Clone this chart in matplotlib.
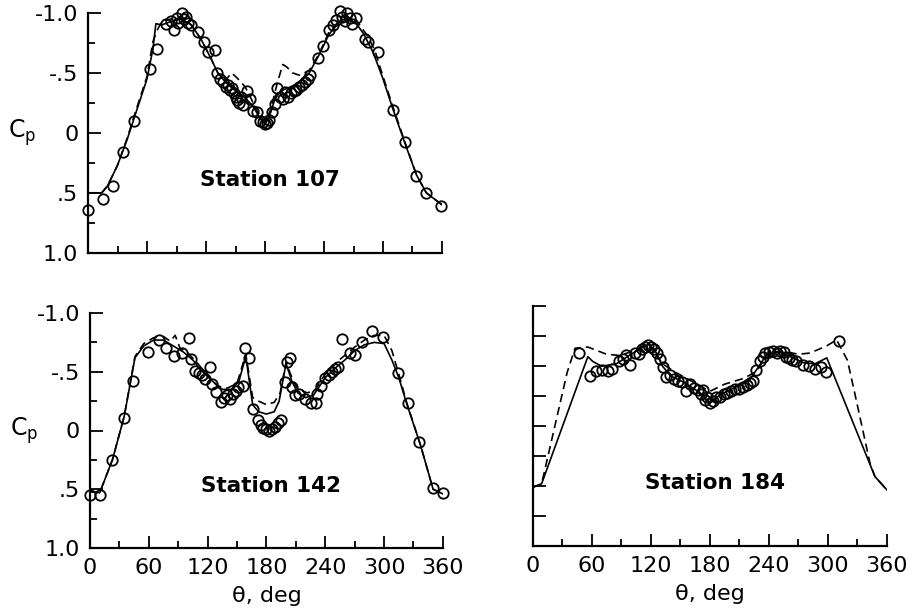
import matplotlib.pyplot as plt
import numpy as np

plt.rcParams['font.family'] = ['DejaVu Sans']
plt.rcParams['mathtext.default'] = 'regular'

# Station 107 - test data (circles), theta deg / Cp
th107 = [0, 15, 25, 36, 47, 63, 70, 79, 84, 87, 90, 92, 96, 98, 100, 102, 105, 112, 118,
         122, 129, 131, 134, 137, 140, 142, 144, 146, 148, 150, 152, 154, 156, 158, 162,
         165, 168, 172, 175, 178, 180, 182, 184, 187, 190, 192, 195, 198, 200, 203, 206,
         209, 212, 215, 218, 221, 224, 226, 234, 239, 245, 249, 252, 256, 258, 261, 263,
         266, 268, 273, 282, 285, 295, 310, 322, 334, 344, 359]
cp107 = [0.64, 0.55, 0.44, 0.16, -0.10, -0.53, -0.70, -0.91, -0.93, -0.86, -0.96, -0.92,
         -1.00, -0.95, -0.97, -0.92, -0.90, -0.84, -0.76, -0.67, -0.69, -0.50, -0.45, -0.42,
         -0.38, -0.40, -0.36, -0.37, -0.33, -0.30, -0.27, -0.25, -0.30, -0.23, -0.35, -0.28,
         -0.18, -0.17, -0.10, -0.09, -0.07, -0.08, -0.11, -0.17, -0.24, -0.37, -0.30, -0.28,
         -0.34, -0.30, -0.33, -0.35, -0.36, -0.38, -0.40, -0.42, -0.45, -0.48, -0.62, -0.72,
         -0.86, -0.90, -0.94, -1.02, -0.97, -0.93, -1.00, -0.96, -0.91, -0.96, -0.78, -0.76,
         -0.67, -0.19, 0.08, 0.36, 0.50, 0.61]
# Station 107 - solid and dashed predictions
th107_s = [0, 14, 20, 30, 40, 50, 60, 66, 69, 75, 85, 95, 105, 115, 125, 132, 140, 150, 160,
           168, 175, 180, 185, 190, 196, 205, 215, 225, 235, 245, 255, 265, 272, 280, 290,
           300, 310, 322, 334, 344, 360]
cp107_s = [0.50, 0.50, 0.44, 0.27, 0.05, -0.20, -0.45, -0.70, -0.91, -0.90, -0.93, -0.95,
           -0.90, -0.78, -0.62, -0.50, -0.42, -0.35, -0.29, -0.22, -0.12, -0.07, -0.15, -0.28,
           -0.35, -0.38, -0.42, -0.50, -0.65, -0.82, -0.92, -0.94, -0.92, -0.83, -0.67, -0.45,
           -0.20, 0.08, 0.35, 0.50, 0.60]
th107_d = [0, 14, 20, 30, 40, 50, 60, 66, 70, 75, 85, 95, 105, 115, 125, 132, 140, 146, 150,
           155, 160, 165, 172, 180, 186, 192, 198, 202, 208, 215, 225, 235, 245, 255, 265,
           272, 278, 285, 292, 300, 310, 322, 334, 344, 360]
cp107_d = [0.50, 0.50, 0.44, 0.27, 0.04, -0.22, -0.47, -0.76, -0.85, -0.93, -0.95, -0.97,
           -0.90, -0.78, -0.62, -0.50, -0.44, -0.50, -0.47, -0.43, -0.38, -0.30, -0.18, -0.08,
           -0.20, -0.40, -0.57, -0.55, -0.50, -0.48, -0.52, -0.66, -0.84, -0.93, -0.96, -0.95,
           -0.88, -0.80, -0.68, -0.47, -0.22, 0.07, 0.35, 0.50, 0.60]

# Station 142
th142 = [0, 10, 23, 35, 44, 59, 70, 78, 86, 94, 101, 103, 107, 111, 114, 117, 122, 125, 129,
         134, 137, 140, 143, 146, 149, 151, 156, 158, 162, 166, 171, 174, 177, 180, 183, 186,
         189, 192, 195, 199, 201, 204, 206, 209, 213, 219, 226, 231, 232, 236, 240, 244, 247,
         250, 253, 257, 265, 270, 278, 288, 299, 314, 324, 336, 350, 360]
cp142 = [0.55, 0.55, 0.25, -0.11, -0.42, -0.67, -0.77, -0.70, -0.63, -0.66, -0.79, -0.61,
         -0.51, -0.49, -0.47, -0.44, -0.54, -0.40, -0.33, -0.24, -0.28, -0.30, -0.27, -0.31,
         -0.34, -0.37, -0.38, -0.70, -0.62, -0.18, -0.09, -0.05, -0.02, -0.01, 0.00, -0.01,
         -0.03, -0.06, -0.09, -0.41, -0.58, -0.62, -0.37, -0.30, -0.31, -0.27, -0.23, -0.23,
         -0.31, -0.38, -0.45, -0.47, -0.50, -0.52, -0.54, -0.78, -0.66, -0.64, -0.75, -0.85,
         -0.80, -0.49, -0.23, 0.10, 0.49, 0.53]
th142_s = [0, 10, 23, 35, 46, 55, 65, 75, 85, 95, 105, 115, 125, 135, 145, 152, 159, 166, 172,
           180, 188, 193, 200, 206, 212, 220, 228, 240, 250, 260, 270, 280, 290, 300, 308,
           315, 323, 337, 350, 360]
cp142_s = [0.52, 0.53, 0.25, -0.12, -0.62, -0.72, -0.77, -0.77, -0.72, -0.67, -0.60, -0.50,
           -0.42, -0.35, -0.35, -0.42, -0.63, -0.22, -0.16, -0.14, -0.16, -0.25, -0.57, -0.42,
           -0.32, -0.28, -0.30, -0.45, -0.53, -0.60, -0.68, -0.73, -0.75, -0.74, -0.60, -0.45,
           -0.23, 0.12, 0.50, 0.54]
th142_d = [0, 10, 23, 35, 46, 55, 65, 75, 82, 87, 92, 100, 110, 120, 130, 140, 150, 159, 166,
           172, 180, 188, 194, 200, 206, 212, 222, 230, 240, 250, 260, 270, 280, 290, 300, 308,
           315, 323, 337, 350, 360]
cp142_d = [0.52, 0.53, 0.25, -0.12, -0.63, -0.74, -0.79, -0.80, -0.76, -0.81, -0.70, -0.66,
           -0.57, -0.47, -0.38, -0.36, -0.40, -0.65, -0.28, -0.25, -0.22, -0.24, -0.32, -0.58,
           -0.45, -0.35, -0.32, -0.35, -0.48, -0.57, -0.64, -0.71, -0.77, -0.81, -0.81, -0.68,
           -0.48, -0.24, 0.12, 0.50, 0.54]

# Station 184
th184 = [47, 58, 64, 70, 76, 81, 88, 92, 95, 99, 104, 108, 111, 114, 117, 120, 123, 126, 129,
         132, 136, 140, 144, 148, 152, 156, 160, 164, 168, 171, 173, 175, 177, 180, 183, 186,
         190, 194, 198, 202, 206, 210, 214, 218, 221, 224, 227, 231, 234, 236, 240, 244, 248,
         251, 255, 258, 261, 264, 268, 275, 281, 287, 293, 298, 311]
cp184 = [-0.61, -0.42, -0.46, -0.47, -0.46, -0.48, -0.54, -0.56, -0.59, -0.51, -0.61, -0.60,
         -0.64, -0.66, -0.68, -0.66, -0.64, -0.61, -0.56, -0.49, -0.41, -0.43, -0.39, -0.38,
         -0.37, -0.29, -0.35, -0.32, -0.30, -0.27, -0.30, -0.22, -0.24, -0.19, -0.21, -0.24,
         -0.24, -0.27, -0.28, -0.29, -0.31, -0.31, -0.33, -0.34, -0.36, -0.38, -0.47, -0.54,
         -0.58, -0.61, -0.62, -0.63, -0.61, -0.63, -0.62, -0.58, -0.57, -0.55, -0.54, -0.51,
         -0.50, -0.48, -0.49, -0.45, -0.71]
th184_s = [0, 9, 56, 61, 70, 85, 100, 110, 118, 125, 132, 140, 155, 170, 180, 190, 205, 220,
           230, 238, 250, 262, 275, 287, 299, 348, 360]
cp184_s = [0.51, 0.48, -0.58, -0.54, -0.50, -0.52, -0.60, -0.65, -0.68, -0.62, -0.50, -0.42,
           -0.36, -0.28, -0.19, -0.26, -0.32, -0.38, -0.50, -0.60, -0.62, -0.58, -0.53, -0.52,
           -0.57, 0.42, 0.53]
th184_d = [0, 9, 35, 43, 56, 75, 88, 100, 118, 132, 145, 165, 180, 195, 215, 228, 240, 258,
           270, 282, 299, 309, 320, 326, 343, 348, 360]
cp184_d = [0.51, 0.48, -0.45, -0.65, -0.66, -0.60, -0.59, -0.62, -0.69, -0.52, -0.45, -0.36,
           -0.29, -0.35, -0.40, -0.46, -0.62, -0.62, -0.60, -0.61, -0.67, -0.72, -0.55, -0.33,
           0.31, 0.42, 0.53]

fig = plt.figure(figsize=(9.17, 6.15), dpi=100)
ax1 = fig.add_axes([0.096, 0.589, 0.386, 0.390])
ax2 = fig.add_axes([0.098, 0.109, 0.385, 0.382])
ax3 = fig.add_axes([0.581, 0.112, 0.386, 0.390])

panels = [
    (ax1, th107, cp107, th107_s, cp107_s, th107_d, cp107_d, 'Station 107', 0.39),
    (ax2, th142, cp142, th142_s, cp142_s, th142_d, cp142_d, 'Station 142', 0.47),
    (ax3, th184, cp184, th184_s, cp184_s, th184_d, cp184_d, 'Station 184', 0.47),
]

for ax, th, cp, ths, cps, thd, cpd, name, ylab in panels:
    ax.plot(ths, cps, color='black', lw=1.2, zorder=2)
    ax.plot(thd, cpd, color='black', lw=1.2, ls=(0, (5, 3)), zorder=2)
    ax.plot(th, cp, 'o', ms=7.5, mfc='none', mec='black', mew=1.3, zorder=3, clip_on=False)
    ax.set_xlim(0, 360)
    ax.set_ylim(1.0, -1.0)
    ax.spines['top'].set_visible(False)
    ax.spines['right'].set_visible(False)
    ax.spines['left'].set_linewidth(1.6)
    ax.spines['bottom'].set_linewidth(1.6)
    ax.set_xticks(np.arange(0, 361, 60))
    ax.set_xticks(np.arange(30, 360, 60), minor=True)
    ax.set_yticks([-1.0, -0.5, 0, 0.5, 1.0])
    ax.set_yticks([-0.75, -0.25, 0.25, 0.75], minor=True)
    ax.tick_params(which='both', direction='in', width=1.3, labelsize=16)
    ax.tick_params(which='major', length=9, pad=7)
    ax.tick_params(which='minor', length=5)
    ax.text(185, ylab, name, fontsize=15.5, fontweight='bold', ha='center', va='center')

for ax in (ax1, ax2):
    ax.set_yticklabels(['-1.0', '-.5', '0', '.5', '1.0'])
    ax.text(-0.225, 0.0, 'C$_p$', fontsize=17, ha='left', va='center',
            transform=ax.get_yaxis_transform())

ax3.tick_params(axis='y', which='both', length=9)
ax3.set_yticklabels([])
ax1.set_xticklabels([])
ax2.set_xlabel('θ, deg', fontsize=16, labelpad=6)
ax3.set_xlabel('θ, deg', fontsize=16, labelpad=6)

fig.savefig('out.png', dpi=100)
